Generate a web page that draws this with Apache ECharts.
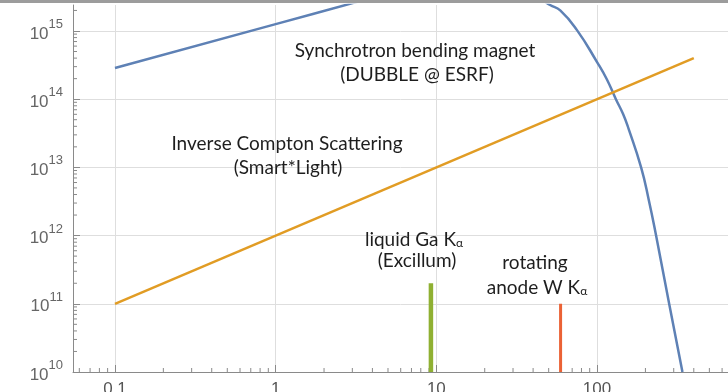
<!DOCTYPE html>
<html>
<head>
<meta charset="utf-8">
<script src="https://cdn.jsdelivr.net/npm/echarts@6/dist/echarts.min.js"></script>
<style>
  html, body { margin: 0; padding: 0; background: #fff; }
  #chart { width: 728px; height: 392px; }
</style>
</head>
<body>
<div id="chart"></div>
<script>
// photon energy (keV) against flux
const synchrotronEnergy = [0.1, 1, 2.9, 5, 10, 20, 35, 51, 59, 75, 100, 115, 131, 145, 157, 188, 210, 233, 281, 340];
const synchrotronFlux = [2.86e14, 1.26e15, 2.5e15, 3.5e15, 4.8e15, 5.2e15, 4.2e15, 2.4e15, 2.0e15, 1.03e15, 3.5e14, 1.96e14, 1.0e14, 6.1e13, 3.7e13, 1.0e13, 3.3e12, 1.0e12, 1.0e11, 1.0e10];
const comptonEnergy = [0.1, 400];
const comptonFlux = [1e11, 4e14];
const galliumEnergy = [9.25, 9.25];
const galliumFlux = [1e10, 2e11];
const tungstenEnergy = [59.3, 59.3];
const tungstenFlux = [1e10, 1e11];

// axis range and minor ticks
const xRange = [0.0548, 653];
const yRange = [1e10, 2.404e15];
const minorMantissa = [2, 3, 4, 5, 6, 7, 8, 9];
const minorDecadesX = [0.01, 0.1, 1, 10, 100];
const minorDecadesY = [1e10, 1e11, 1e12, 1e13, 1e14, 1e15];

const pairs = (xs, ys) => xs.map((x, i) => [x, ys[i]]);
const inRange = (v, r) => v >= r[0] && v <= r[1];
const minorX = [];
minorDecadesX.forEach(d => minorMantissa.forEach(m => { if (inRange(m * d, xRange)) minorX.push([m * d, yRange[0]]); }));
const minorY = [];
minorDecadesY.forEach(d => minorMantissa.forEach(m => { if (inRange(m * d, yRange)) minorY.push([xRange[0], m * d]); }));

const tickColor = '#8a8a8a';
const gridColor = '#dedede';
const textFont = '19px Lato';

function minorTick (dx, dy) {
  return function (params, api) {
    const p = api.coord([api.value(0), api.value(1)]);
    return {
      type: 'line',
      shape: { x1: p[0], y1: p[1], x2: p[0] + dx, y2: p[1] + dy },
      style: { stroke: tickColor, lineWidth: 1 }
    };
  };
}

const isDecade = v => Math.abs(Math.log10(v) - Math.round(Math.log10(v))) < 1e-6;
const subRich = { sub: { fontSize: 12, fontFamily: 'Lato', fill: '#1e1e1e', lineHeight: 12, verticalAlign: 'bottom' } };
const note = (x, y, text) => ({
  type: 'text', x: x, y: y, z: 100,
  style: { text: text, font: textFont, fill: '#1e1e1e', align: 'center', verticalAlign: 'middle', rich: subRich }
});

const chart = echarts.init(document.getElementById('chart'));
chart.setOption({
  animation: false,
  grid: { left: 73, right: 0, top: 5, bottom: 20, outerBoundsMode: 'none', containLabel: false },
  xAxis: {
    type: 'log',
    min: xRange[0],
    max: xRange[1],
    axisLine: { lineStyle: { color: tickColor, width: 1 } },
    axisTick: { inside: true, length: 7, lineStyle: { color: tickColor } },
    splitLine: { show: true, lineStyle: { color: gridColor, width: 1 } },
    axisLabel: {
      margin: 9,
      color: '#555',
      fontFamily: 'Liberation Sans',
      fontSize: 17,
      showMinLabel: false,
      showMaxLabel: false,
      formatter: v => isDecade(v) ? String(v) : ''
    }
  },
  yAxis: {
    type: 'log',
    min: yRange[0],
    max: yRange[1],
    axisLine: { show: true, lineStyle: { color: tickColor, width: 1 } },
    axisTick: { show: true, inside: true, length: 7, lineStyle: { color: tickColor } },
    splitLine: { show: true, lineStyle: { color: [gridColor, gridColor, gridColor, gridColor, gridColor, gridColor, 'rgba(0,0,0,0)'], width: 1 } },
    axisLabel: {
      margin: 10,
      showMaxLabel: false,
      formatter: v => isDecade(v) ? '{b|10}{s|' + Math.round(Math.log10(v)) + '}' : '',
      rich: {
        b: { fontFamily: 'Liberation Sans', fontSize: 17, color: '#666', lineHeight: 26, padding: [6, 0, 0, 0] },
        s: { fontFamily: 'Liberation Sans', fontSize: 13, color: '#666', lineHeight: 14, verticalAlign: 'top' }
      }
    }
  },
  series: [
    {
      type: 'line', data: pairs(synchrotronEnergy, synchrotronFlux), smooth: 0.5,
      symbol: 'none', lineStyle: { color: '#5e81b5', width: 2.5 }, z: 3
    },
    {
      type: 'line', data: pairs(comptonEnergy, comptonFlux),
      symbol: 'none', lineStyle: { color: '#e19c24', width: 2.5 }, z: 3
    },
    {
      type: 'line', data: pairs(galliumEnergy, galliumFlux),
      symbol: 'none', lineStyle: { color: '#8fb032', width: 4.5, cap: 'butt' }, z: 3
    },
    {
      type: 'line', data: pairs(tungstenEnergy, tungstenFlux),
      symbol: 'none', lineStyle: { color: '#eb6235', width: 3, cap: 'butt' }, z: 3
    },
    { type: 'custom', data: minorX, renderItem: minorTick(0, -4), clip: false, silent: true },
    { type: 'custom', data: minorY, renderItem: minorTick(4, 0), clip: false, silent: true }
  ],
  graphic: [
    { type: 'rect', shape: { x: 0, y: 0, width: 728, height: 3 }, style: { fill: '#9c9c9c' }, z: 100 },
    note(415, 51, 'Synchrotron bending magnet'),
    note(417, 75, '(DUBBLE @ ESRF)'),
    note(287, 144, 'Inverse Compton Scattering'),
    note(288, 168, '(Smart*Light)'),
    note(414, 240, 'liquid Ga K{sub|α}'),
    note(417, 261, '(Excillum)'),
    note(535, 263, 'rotating'),
    note(537, 288, 'anode W K{sub|α}')
  ]
});
</script>
</body>
</html>
